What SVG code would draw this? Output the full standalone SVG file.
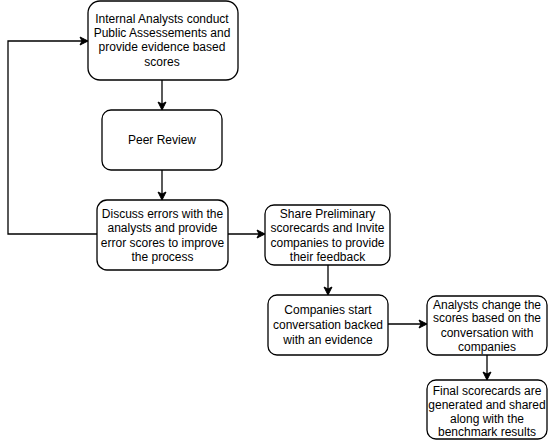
<svg xmlns="http://www.w3.org/2000/svg" width="548" height="441" viewBox="0 0 548 441">
<defs>
<marker id="arr" markerWidth="10" markerHeight="10" refX="8" refY="5" orient="auto" markerUnits="userSpaceOnUse">
<path d="M1,1 L9,5 L1,9 L3,5 Z" fill="#000" stroke="#000" stroke-width="1"/>
</marker>
</defs>
<style>
.box{fill:#fff;stroke:#000;stroke-width:1.3}
.t{font-family:"Liberation Sans",Arial,sans-serif;font-size:12px;fill:#000;text-anchor:middle}
.c{fill:none;stroke:#000;stroke-width:1.3;marker-end:url(#arr)}
</style>
<rect width="548" height="441" fill="#fff"/>
<g id="connectors">
<path class="c" d="M162,80 L162,109"/>
<path class="c" d="M162,170 L162,199"/>
<path class="c" d="M97,234 L8,234 L8,41 L87,41"/>
<path class="c" d="M228,234 L264,234"/>
<path class="c" d="M328,265 L328,294"/>
<path class="c" d="M388,324 L426,324"/>
<path class="c" d="M487,355 L487,379"/>
</g>
<g id="n1">
<rect class="box" x="88" y="1" width="150" height="79" rx="12"/>
<text class="t"><tspan x="162" y="23">Internal Analysts conduct</tspan><tspan x="162" y="37">Public Assessements and</tspan><tspan x="162" y="51">provide evidence based</tspan><tspan x="162" y="66">scores</tspan></text>
</g>
<g id="n2">
<rect class="box" x="102" y="110" width="120" height="60" rx="9"/>
<text class="t" x="162" y="144">Peer Review</text>
</g>
<g id="n3">
<rect class="box" x="97" y="200" width="131" height="70" rx="10"/>
<text class="t"><tspan x="162.5" y="218">Discuss errors with the</tspan><tspan x="162.5" y="232">analysts and provide</tspan><tspan x="162.5" y="247">error scores to improve</tspan><tspan x="162.5" y="261">the process</tspan></text>
</g>
<g id="n4">
<rect class="box" x="265" y="205" width="125" height="60" rx="9"/>
<text class="t"><tspan x="327.5" y="218">Share Preliminary</tspan><tspan x="327.5" y="232">scorecards and Invite</tspan><tspan x="327.5" y="247">companies to provide</tspan><tspan x="327.5" y="261">their feedback</tspan></text>
</g>
<g id="n5">
<rect class="box" x="268" y="295" width="120" height="60" rx="9"/>
<text class="t"><tspan x="328" y="314">Companies start</tspan><tspan x="328" y="329">conversation backed</tspan><tspan x="328" y="344">with an evidence</tspan></text>
</g>
<g id="n6">
<rect class="box" x="427" y="296" width="120" height="59" rx="9"/>
<text class="t"><tspan x="487" y="309">Analysts change the</tspan><tspan x="487" y="322">scores based on the</tspan><tspan x="487" y="337">conversation with</tspan><tspan x="487" y="351">companies</tspan></text>
</g>
<g id="n7">
<rect class="box" x="427" y="380" width="120" height="59" rx="9"/>
<text class="t"><tspan x="487" y="395">Final scorecards are</tspan><tspan x="487" y="409">generated and shared</tspan><tspan x="487" y="423">along with the</tspan><tspan x="487" y="436">benchmark results</tspan></text>
</g>
</svg>
